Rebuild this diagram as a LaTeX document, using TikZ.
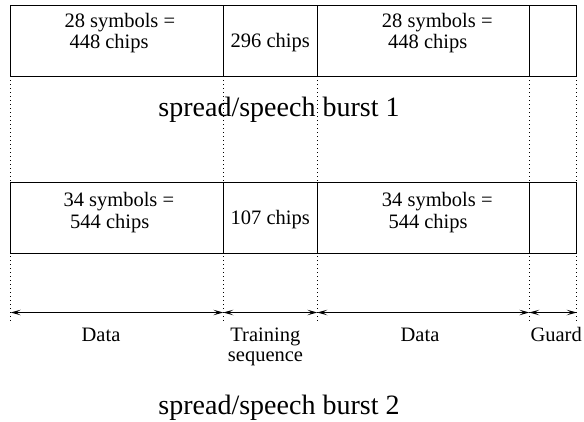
\documentclass[tikz,border=0pt]{standalone}
\usepackage{fontspec}
\setmainfont{Liberation Serif}
\usetikzlibrary{arrows.meta}
\begin{document}
\begin{tikzpicture}[x=1bp,y=-1bp,
  cell/.style={draw, line width=1bp, anchor=north west, inner sep=0pt, outer sep=0pt, minimum height=70.7bp},
  lbl/.style={font=\fontsize{20.5bp}{22bp}\selectfont, inner sep=0pt, anchor=base west},
  clbl/.style={font=\fontsize{20.5bp}{22bp}\selectfont, inner sep=0pt, anchor=base},
  big/.style={font=\fontsize{28bp}{30bp}\selectfont, inner sep=0pt, anchor=base},
  guide/.style={line width=0.9bp, dash pattern=on 1bp off 3bp},
  dim/.style={line width=0.9bp, {Stealth[length=10bp,width=5.5bp,inset=4.5bp]}-{Stealth[length=10bp,width=5.5bp,inset=4.5bp]}}
]
\useasboundingbox (0,0) rectangle (584,421);

% dotted guide lines
\coordinate (g0) at (10.7,323);
\coordinate (g1) at (223.3,323);
\coordinate (g2) at (317.3,323);
\coordinate (g3) at (529.3,323);
\coordinate (g4) at (576.7,323);
\coordinate (t0) at (10.7,76);
\coordinate (t1) at (223.3,76);
\coordinate (t2) at (317.3,76);
\coordinate (t3) at (529.3,76);
\coordinate (t4) at (576.7,76);
\draw[guide] (t0) -- (g0);
\draw[guide] (t1) -- (g1);
\draw[guide] (t2) -- (g2);
\draw[guide] (t3) -- (g3);
\draw[guide] (t4) -- (g4);

% row 1
\node[cell, fill=white, minimum width=212.6bp] (r1a) at (10.7,5.3) {};
\node[cell, fill=white, minimum width=94bp] (r1b) at (223.3,5.3) {};
\node[cell, fill=white, minimum width=212bp] (r1c) at (317.3,5.3) {};
\node[cell, fill=white, minimum width=47.4bp] (r1d) at (529.3,5.3) {};
\node[lbl] (r1a1) at (64.3,27.3) {28 symbols =};
\node[lbl] (r1a2) at (69.3,48.3) {448 chips};
\node[clbl] (r1b1) at (270.3,47) {296 chips};
\node[lbl] (r1c1) at (381.7,27.3) {28 symbols =};
\node[lbl] (r1c2) at (388,48.3) {448 chips};

\node[big] (burst1) at (279,116.5) {spread/speech burst 1};

% row 2
\node[cell, fill=white, minimum width=212.6bp] (r2a) at (10.7,182.7) {};
\node[cell, fill=white, minimum width=94bp] (r2b) at (223.3,182.7) {};
\node[cell, fill=white, minimum width=212bp] (r2c) at (317.3,182.7) {};
\node[cell, fill=white, minimum width=47.4bp] (r2d) at (529.3,182.7) {};
\node[lbl] (r2a1) at (63.3,206.5) {34 symbols =};
\node[lbl] (r2a2) at (70,228) {544 chips};
\node[clbl] (r2b1) at (270.3,224) {107 chips};
\node[lbl] (r2c1) at (381.7,206.5) {34 symbols =};
\node[lbl] (r2c2) at (388.3,228) {544 chips};

% dimension arrows
\coordinate (a0) at (10.7,312.5);
\coordinate (a1) at (223.3,312.5);
\coordinate (a2) at (317.3,312.5);
\coordinate (a3) at (529.3,312.5);
\coordinate (a4) at (576.7,312.5);
\draw[dim] (a0) -- (a1);
\draw[dim] (a1) -- (a2);
\draw[dim] (a2) -- (a3);
\draw[dim] (a3) -- (a4);

\node[clbl] (data1) at (101,341.7) {Data};
\node[clbl] (train1) at (265.3,341.7) {Training};
\node[clbl] (train2) at (265.5,361) {sequence};
\node[clbl] (data2) at (420,341.7) {Data};
\node[clbl] (guard) at (556.2,341.7) {Guard};

\node[big] (burst2) at (279,414) {spread/speech burst 2};
\end{tikzpicture}
\end{document}
